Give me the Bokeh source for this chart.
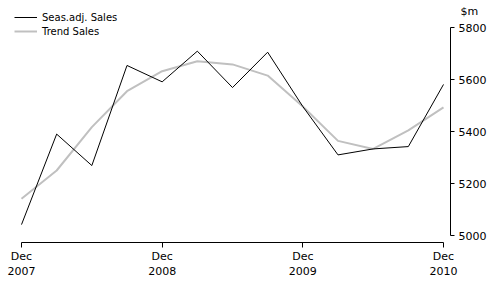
from bokeh.plotting import figure
from bokeh.models import Range1d, FixedTicker, Legend, LegendItem, Title, ColumnDataSource
from bokeh.embed import file_html
from bokeh.resources import INLINE

# Quarterly data, Dec 2007 .. Dec 2010
quarter_index = list(range(13))
seas_adj_sales = [5042, 5390, 5269, 5654, 5591, 5709, 5569, 5705, 5496, 5310, 5333, 5342, 5581]
trend_sales = [5141, 5250, 5417, 5555, 5632, 5670, 5658, 5615, 5496, 5364, 5333, 5404, 5493]
x_tick_positions = [0, 4, 8, 12]
x_tick_labels = ["Dec\n2007", "Dec\n2008", "Dec\n2009", "Dec\n2010"]
y_ticks = [5000, 5200, 5400, 5600, 5800]
unit_text = "$m"

FONT = "DejaVu Sans"

src = ColumnDataSource(dict(x=quarter_index, sa=seas_adj_sales, tr=trend_sales))

px_per_q = 422 / 12.0
px_per_val = 208 / 800.0
frame_top = 10

p = figure(frame_width=450, frame_height=242 - frame_top, output_backend="svg",
           toolbar_location=None, y_axis_location="right",
           x_range=Range1d(-21 / px_per_q, 12 + 7 / px_per_q),
           y_range=Range1d(5000 - 7 / px_per_val, 5800 + (27 - frame_top) / px_per_val),
           min_border_left=0, min_border_top=frame_top, min_border_bottom=42,
           min_border_right=46)
p.outline_line_color = None
p.xgrid.visible = False
p.ygrid.visible = False
p.background_fill_color = "white"
p.border_fill_color = "white"

r_tr = p.line("x", "tr", source=src, line_color="#C0C0C0", line_width=2)
r_sa = p.line("x", "sa", source=src, line_color="black", line_width=1)

xa = p.xaxis[0]
xa.ticker = FixedTicker(ticks=x_tick_positions)
xa.major_label_overrides = {t: l for t, l in zip(x_tick_positions, x_tick_labels)}
xa.bounds = (0, 12)
xa.major_tick_out = 5
xa.major_tick_in = 0
xa.minor_tick_line_color = None
xa.minor_tick_out = 0
xa.axis_line_color = "black"
xa.major_tick_line_color = "black"
xa.major_label_text_font = FONT
xa.major_label_text_font_size = "11px"
xa.major_label_text_color = "black"
xa.major_label_standoff = 2

ya = p.yaxis[0]
ya.ticker = FixedTicker(ticks=y_ticks)
ya.bounds = (5000, 5800)
ya.major_tick_out = 4
ya.major_tick_in = 0
ya.minor_tick_line_color = None
ya.minor_tick_out = 0
ya.axis_line_color = "black"
ya.major_tick_line_color = "black"
ya.major_label_text_font = FONT
ya.major_label_text_font_size = "11px"
ya.major_label_text_color = "black"
ya.major_label_standoff = 4

unit = Title(text=unit_text, align="left", offset=460, standoff=-14,
             text_font=FONT, text_font_size="11px", text_font_style="normal",
             text_color="black")
p.add_layout(unit, "above")

legend = Legend(items=[LegendItem(label="Seas.adj. Sales", renderers=[r_sa]),
                       LegendItem(label="Trend Sales", renderers=[r_tr])],
                location=(14, 204), padding=0, margin=0, spacing=0,
                glyph_width=23, glyph_height=14, label_height=14,
                label_standoff=5, border_line_color=None, background_fill_alpha=0,
                label_text_font=FONT, label_text_font_size="10px", label_text_color="black")
p.add_layout(legend)

open("out.html", "w").write(file_html(p, INLINE))
